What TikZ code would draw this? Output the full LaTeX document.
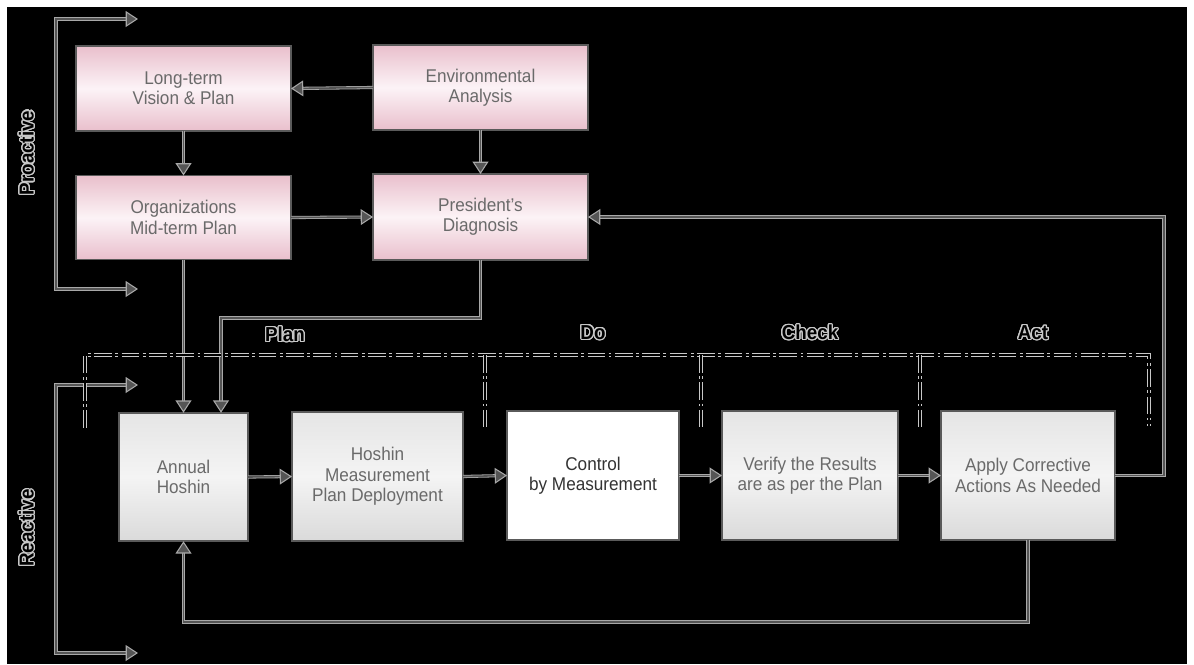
\documentclass[tikz,border=0pt]{standalone}
\usepackage{fontspec}
\setmainfont{Liberation Sans}[FakeStretch=0.93]
\usepackage{contour}
\usetikzlibrary{arrows.meta}
\definecolor{pinkedge}{HTML}{E9BFCC}
\definecolor{pinkmid}{HTML}{FCF3F6}
\definecolor{greyedge}{HTML}{DADADA}
\definecolor{greymid}{HTML}{F4F4F4}
\definecolor{boxline}{HTML}{5A5A5A}
\definecolor{linelight}{HTML}{A8A8A8}
\definecolor{linedark}{HTML}{555555}
\definecolor{textgrey}{HTML}{6A6A6A}
\definecolor{outlinegrey}{HTML}{C8C8C8}
\contourlength{0.7pt}
\contournumber{24}
\tikzset{
  tip/.tip={Triangle[length=7pt,width=9pt,fill=linedark,color=linelight,line width=0.6pt]},
  box/.style={draw=boxline,line width=1.1pt,outer sep=0pt,align=center,
    font=\fontsize{10.5}{11.6}\selectfont,text=textgrey},
  pinkbox/.style={box,minimum width=4.3cm,top color=pinkedge,bottom color=pinkedge,middle color=pinkmid},
  greybox/.style={box,minimum height=2.57cm,top color=greyedge!70!white,bottom color=greyedge,middle color=greymid},
  whitebox/.style={box,minimum height=2.57cm,fill=white,text=black!80},
  conn/.style={draw=linelight,double=linedark,double distance=0.9pt,line width=0.45pt},
  flow/.style={conn,-tip},
  phase/.style={draw=outlinegrey,double=black,double distance=0.9pt,line width=0.45pt,
    dash pattern=on 10pt off 2pt on 1.6pt off 2pt},
  sidelabel/.style={font=\bfseries\fontsize{11.5}{12}\selectfont,text=black,rotate=90},
  phaselabel/.style={font=\bfseries\fontsize{11.5}{12}\selectfont,text=black}
}
\newcommand{\hollow}[1]{\contour{outlinegrey}{#1}}
\begin{document}
\begin{tikzpicture}[x=0.02cm,y=-0.02cm]
% canvas
\fill[white] (0,0) rectangle (1194,664);
\fill[black] (7,7) rectangle (1187,664);
\useasboundingbox (0,0) rectangle (1194,664);

% strategic planning boxes
\node[pinkbox,minimum height=1.70cm] (lt)  at (183.5,88.5) {Long-term\\Vision \& Plan};
\node[pinkbox,minimum height=1.70cm] (env) at (480.5,87.5) {Environmental\\Analysis};
\node[pinkbox,minimum height=1.68cm] (org) at (183.5,217.5) {Organizations\\Mid-term Plan};
\node[pinkbox,minimum height=1.72cm] (pres) at (480.5,217) {President's\\Diagnosis};

% PDCA row
\node[greybox,minimum width=2.58cm] (ah) at (183.5,477) {Annual\\Hoshin};
\node[greybox,minimum width=3.42cm] (hm) at (377.5,476.5) {Hoshin\\Measurement\\Plan Deployment};
\node[whitebox,minimum width=3.44cm] (cm) at (593,475.5) {Control\\by Measurement};
\node[greybox,minimum width=3.52cm] (vr) at (810,475.5) {Verify the Results\\are as per the Plan};
\node[greybox,minimum width=3.48cm] (ap) at (1028,475.5) {Apply Corrective\\Actions As Needed};

% bend points
\coordinate (pj) at (221,318);
\coordinate (fb) at (1164,300);
\coordinate (lb) at (600,622);

% upper connectors
\draw[flow] (env.west) -- (lt.east);
\draw[flow] (lt.south) -- (org.north);
\draw[flow] (env.south) -- (pres.north);
\draw[flow] (org.east) -- (pres.west);
\draw[flow] (org.south) -- (ah.north);
\draw[flow] (pres.south) |- (pj) -- (pj |- ah.north);

% PDCA connectors
\draw[flow] (ah.east) -- (hm.west);
\draw[flow] (hm.east) -- (cm.west);
\draw[flow] (cm.east) -- (vr.west);
\draw[flow] (vr.east) -- (ap.west);
\draw[flow] (ap.east) -| (fb) |- (pres.east);
\draw[flow] (ap.south) |- (lb) -| (ah.south);

% proactive / reactive brackets
\coordinate (pa1) at (138,19);  \coordinate (pa2) at (56,19);
\coordinate (pa3) at (56,289);  \coordinate (pa4) at (138,289);
\coordinate (ra1) at (138,385); \coordinate (ra2) at (56,385);
\coordinate (ra3) at (56,653);  \coordinate (ra4) at (138,653);
\draw[conn,tip-tip] (pa1) -- (pa2) -- (pa3) -- (pa4);
\draw[conn,tip-tip] (ra1) -- (ra2) -- (ra3) -- (ra4);
\node[sidelabel] (pro) at (27,153) {\hollow{Proactive}};
\node[sidelabel] (rea) at (27,528) {\hollow{Reactive}};

% phase frame
\coordinate (f1) at (85,428);  \coordinate (f2) at (85,355);
\coordinate (f3) at (1149,355); \coordinate (f4) at (1149,426);
\draw[phase] (f1) -- (f2) -- (f3) -- (f4);
\foreach \xx in {485,701,920}
  \draw[phase] (\xx,355) -- (\xx,427);
\node[phaselabel] (lplan)  at (285,335)  {\hollow{Plan}};
\node[phaselabel] (ldo)    at (593,333)  {\hollow{Do}};
\node[phaselabel] (lcheck) at (810,333)  {\hollow{Check}};
\node[phaselabel] (lact)   at (1033,333) {\hollow{Act}};
\end{tikzpicture}
\end{document}
